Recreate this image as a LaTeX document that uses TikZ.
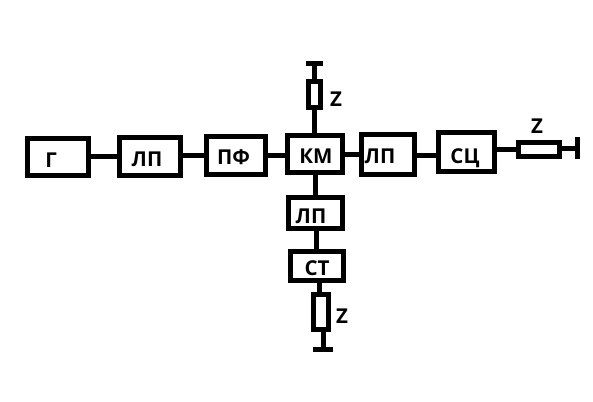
\documentclass[tikz,border=0pt]{standalone}
\usepackage{fontspec}
\setmainfont{Open Sans}
\begin{document}
\begin{tikzpicture}[x=1pt,y=-1pt,
  blockbox/.style={draw=black,line width=5pt,fill=white,inner sep=0pt},
  wire/.style={draw=black,line width=5pt},
  tbar/.style={draw=black,line width=5pt},
  txt/.style={font=\bfseries\fontsize{20.5}{20.5}\selectfont,text height=14.7pt,text depth=0pt,inner sep=0pt,text=black}]
\useasboundingbox (0,0) rectangle (593,401);
\fill[white] (0,0) rectangle (593,401);
% blocks
\node[blockbox,minimum width=61pt,minimum height=37pt] (g) at (58,157) {};
\node[blockbox,minimum width=61pt,minimum height=38pt] (lp1) at (150,156.5) {};
\node[blockbox,minimum width=59pt,minimum height=38pt] (pf) at (236,155.5) {};
\node[blockbox,minimum width=55pt,minimum height=37pt] (km) at (314.5,154) {};
\node[blockbox,minimum width=53pt,minimum height=40pt] (lp2) at (388,154.5) {};
\node[blockbox,minimum width=56pt,minimum height=39pt] (sc) at (466.5,152) {};
\node[blockbox,minimum width=54pt,minimum height=31pt] (lp3) at (315.5,213) {};
\node[blockbox,minimum width=53pt,minimum height=29pt] (st) at (317,266) {};
% impedances
\node[blockbox,minimum width=12pt,minimum height=26pt] (ztop) at (314.5,94.5) {};
\node[blockbox,minimum width=41pt,minimum height=14pt] (zright) at (539,149.5) {};
\node[blockbox,minimum width=15pt,minimum height=35pt] (zbot) at (321,312) {};
% terminals
\coordinate (ttop) at (314.5,63.5);
\coordinate (tright) at (577.5,148);
\coordinate (tbot) at (323,349.5);
\draw[tbar] (306,63.5) -- (323,63.5);
\draw[tbar] (577.5,137) -- (577.5,159);
\draw[tbar] (313,349.5) -- (333,349.5);
% connectors
\draw[wire] (g.east) ++(0,-1) -- (lp1.west |- 0,156);
\draw[wire] (lp1.east |- 0,155) -- (pf.west |- 0,155);
\draw[wire] (pf.east |- 0,155) -- (km.west |- 0,155);
\draw[wire] (km.east |- 0,154.5) -- (lp2.west |- 0,154.5);
\draw[wire] (lp2.east |- 0,155) -- (sc.west |- 0,155);
\draw[wire] (sc.east |- 0,149) -- (zright.west |- 0,149);
\draw[wire] (zright.east |- tright) -- (tright);
\draw[wire] (ttop) -- (ztop.north);
\draw[wire] (ztop.south) -- (km.north -| ztop.south);
\draw[wire] (km.south -| lp3.north) -- (lp3.north);
\draw[wire] (lp3.south -| 316,0) -- (st.north -| 316,0);
\draw[wire] (st.south -| 319,0) -- (zbot.north -| 319,0);
\draw[wire] (zbot.south -| tbot) -- (tbot);
% labels
\node[txt] (tg) at (51,160) {Г};
\node[txt] (tlp1) at (147,159) {ЛП};
\node[txt] (tpf) at (233.5,157) {ПФ};
\node[txt] (tkm) at (316,156) {КМ};
\node[txt] (tlp2) at (380,156) {ЛП};
\node[txt] (tsc) at (465,156) {СЦ};
\node[txt] (tlp3) at (311,216) {ЛП};
\node[txt] (tst) at (317,268) {СТ};
\node[txt] (zt) at (336,99) {Z};
\node[txt] (zr) at (537,126) {Z};
\node[txt] (zb) at (342,316) {Z};
\end{tikzpicture}
\end{document}
